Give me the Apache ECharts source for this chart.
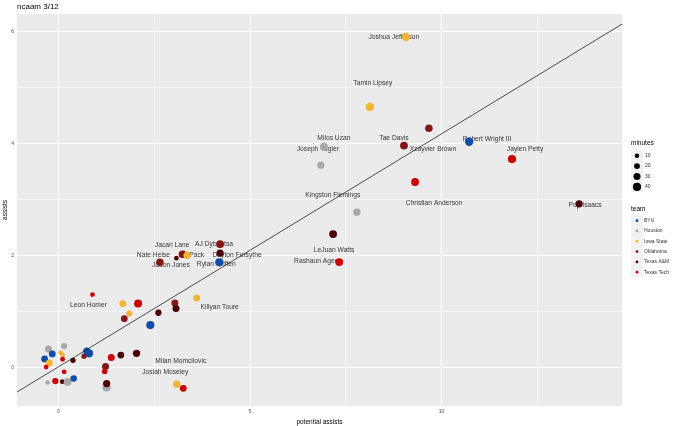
<!DOCTYPE html>
<html>
<head>
<meta charset="utf-8">
<script src="https://cdn.jsdelivr.net/npm/echarts@6/dist/echarts.min.js"></script>
<style>
html, body { margin: 0; padding: 0; background: #fff; }
#main { width: 680px; height: 426px; }
</style>
</head>
<body>
<div id="main"></div>
<script>
// players (empty name = no label)
var names = [
  "Joshua Jefferson", "Tamin Lipsey", "Xzayvier Brown", "Tae Davis", "Robert Wright III",
  "Jaylen Petty", "Christian Anderson", "Pop Isaacs", "Milos Uzan", "Joseph Tugler",
  "Kingston Flemings", "LeJuan Watts", "Rashaun Agee", "AJ Dybantsa", "Dayton Forsythe",
  "Rylan Griffen", "Jal Pack", "Jacari Lane", "Nate Heise", "Jadon Jones",
  "Killyan Toure", "Leon Homer", "Milan Momcilovic", "Josiah Moseley",
  "", "", "", "", "", "", "", "", "", "", "", "", "", "", "", "", "",
  "", "", "", "", "", "", "", "", "", "", "", "", "", "", "", "", ""
];
var teams = [
  "Iowa State", "Iowa State", "Oklahoma", "Oklahoma", "BYU",
  "Texas Tech", "Texas Tech", "Texas A&M", "Houston", "Houston",
  "Houston", "Texas A&M", "Texas Tech", "Oklahoma", "Texas A&M",
  "BYU", "Oklahoma", "Iowa State", "Texas A&M", "Oklahoma",
  "Iowa State", "Texas Tech", "Iowa State", "Texas Tech",
  "Iowa State", "Texas Tech", "Oklahoma", "Texas A&M", "Iowa State", "Oklahoma", "Texas A&M", "BYU",
  "Houston", "Houston", "Iowa State", "Iowa State", "BYU", "BYU", "Iowa State", "Texas Tech", "Texas Tech",
  "Texas A&M", "Oklahoma", "BYU", "BYU", "Texas Tech", "Texas A&M", "Texas A&M", "Oklahoma", "Texas Tech",
  "Texas Tech", "Houston", "Texas Tech", "Texas A&M", "Houston", "BYU", "Houston", "Texas A&M"
];
var potentialAssists = [
  9.07, 8.13, 9.67, 9.02, 10.72,
  11.84, 9.31, 13.59, 6.93, 6.85,
  7.79, 7.17, 7.33, 4.22, 4.22,
  4.20, 3.24, 3.36, 3.08, 2.65,
  3.61, 0.89, 3.09, 3.26,
  1.68, 2.08, 3.04, 3.07, 1.85, 1.72, 2.61, 2.40,
  -0.26, 0.15, 0.06, 0.11, -0.16, -0.36, -0.24, -0.32, 0.11,
  0.38, 0.67, 0.74, 0.80, 1.38, 1.63, 2.04, 1.23, 1.21,
  0.15, -0.28, -0.08, 0.10, 0.24, 0.40, 1.26, 1.26
];
var assists = [
  5.90, 4.65, 4.27, 3.96, 4.03,
  3.72, 3.31, 2.92, 3.94, 3.61,
  2.77, 2.38, 1.88, 2.20, 2.04,
  1.875, 2.02, 2.00, 1.95, 1.875,
  1.24, 1.30, -0.30, -0.375,
  1.14, 1.14, 1.15, 1.05, 0.96, 0.87, 0.975, 0.755,
  0.33, 0.38, 0.26, 0.22, 0.24, 0.15, 0.08, 0.005, 0.145,
  0.125, 0.20, 0.29, 0.25, 0.175, 0.22, 0.25, 0.015, -0.075,
  -0.08, -0.27, -0.245, -0.255, -0.26, -0.20, -0.36, -0.29
];
var minutes = [
  42, 40, 35, 37, 42,
  40, 37, 32, 36, 32,
  32, 37, 37, 36, 32,
  40, 36, 32, 10, 34,
  30, 12, 32, 28,
  28, 38, 30, 30, 22, 28, 24, 40,
  30, 24, 12, 10, 28, 28, 30, 12, 12,
  16, 16, 30, 40, 30, 28, 32, 30, 18,
  12, 10, 24, 10, 36, 26, 40, 32
];

// fitted line end points (x, y)
var fitLine = [[-1.08, -0.44], [14.71, 6.13]];

var xTicks = [0, 5, 10];
var yTicks = [0, 2, 4, 6];
var xMinor = [2.5, 7.5, 12.5];
var yMinor = [1, 3, 5];
var sizeBreaks = [10, 20, 30, 40];
var teamNames = ["BYU", "Houston", "Iowa State", "Oklahoma", "Texas A&M", "Texas Tech"];

// styles
var teamColors = {
  "BYU": "#0F4DA8", "Houston": "#A8A8A8", "Iowa State": "#F1B434",
  "Oklahoma": "#841617", "Texas A&M": "#4A0000", "Texas Tech": "#CC0000"
};
var labelOffset = {
  "Joshua Jefferson": [-12, 0], "Tamin Lipsey": [3, -24], "Xzayvier Brown": [4, 21],
  "Tae Davis": [-10, -7], "Robert Wright III": [18, -3], "Jaylen Petty": [13, -10],
  "Christian Anderson": [19, 21], "Pop Isaacs": [6, 1], "Milos Uzan": [10, -9],
  "Joseph Tugler": [-3, -16], "Kingston Flemings": [-24, -17], "LeJuan Watts": [1, 16],
  "Rashaun Agee": [-23, -1], "AJ Dybantsa": [-6, 0], "Dayton Forsythe": [17, 2],
  "Rylan Griffen": [-3, 2], "Jal Pack": [9, 1], "Jacari Lane": [-15, -10],
  "Nate Heise": [-23, -3], "Jadon Jones": [11, 3], "Killyan Toure": [23, 9],
  "Leon Homer": [-4, 11], "Milan Momcilovic": [4, -23], "Josiah Moseley": [-18, -16]
};
var FONT = "Liberation Sans, Arial, Helvetica, sans-serif";
function dotSize(m) { return 3.4 + 0.12 * m; }

var myChart = echarts.init(document.getElementById('main'));

var points = [];
var labels = [];
for (var i = 0; i < names.length; i++) {
  points.push({
    value: [potentialAssists[i], assists[i], minutes[i]],
    symbolSize: dotSize(minutes[i]),
    itemStyle: { color: teamColors[teams[i]], opacity: 1 }
  });
  if (names[i]) {
    labels.push({
      value: [potentialAssists[i], assists[i]],
      name: names[i],
      label: { offset: labelOffset[names[i]] || [0, 0] }
    });
  }
}

var gridLines = [];
xTicks.forEach(function (v) { gridLines.push({ xAxis: v, lineStyle: { width: 1.1 } }); });
xMinor.forEach(function (v) { gridLines.push({ xAxis: v, lineStyle: { width: 0.5 } }); });
yTicks.forEach(function (v) { gridLines.push({ yAxis: v, lineStyle: { width: 1.1 } }); });
yMinor.forEach(function (v) { gridLines.push({ yAxis: v, lineStyle: { width: 0.5 } }); });

// legends (ggplot style, right side) + y axis title
var graphics = [];
graphics.push({
  type: 'text', x: 5, y: 210, rotation: Math.PI / 2,
  style: { text: 'assists', fontSize: 6.5, fontFamily: FONT, fill: '#000', align: 'center', verticalAlign: 'middle' }
});
graphics.push({ type: 'text', left: 631, top: 140, style: { text: 'minutes', fontSize: 6.5, fontFamily: FONT, fill: '#000' } });
graphics.push({ type: 'rect', shape: { x: 631, y: 150.5, width: 12, height: 41.5 }, style: { fill: '#F2F2F2' } });
sizeBreaks.forEach(function (m, k) {
  var cy = 155.7 + k * 10.4;
  graphics.push({ type: 'circle', shape: { cx: 637, cy: cy, r: dotSize(m) / 2 }, style: { fill: '#000' } });
  graphics.push({ type: 'text', x: 645, y: cy, style: { text: String(m), fontSize: 5, fontFamily: FONT, fill: '#333', verticalAlign: 'middle' } });
});
graphics.push({ type: 'text', left: 631, top: 206, style: { text: 'team', fontSize: 6.5, fontFamily: FONT, fill: '#000' } });
graphics.push({ type: 'rect', shape: { x: 631, y: 215.5, width: 12, height: 62 }, style: { fill: '#F2F2F2' } });
teamNames.forEach(function (t, k) {
  var cy = 220.7 + k * 10.3;
  graphics.push({ type: 'circle', shape: { cx: 637, cy: cy, r: 1.4 }, style: { fill: teamColors[t] } });
  graphics.push({ type: 'text', x: 644, y: cy, style: { text: t, fontSize: 5, fontFamily: FONT, fill: '#333', verticalAlign: 'middle' } });
});

var option = {
  animation: false,
  title: {
    text: 'ncaam 3/12',
    left: 17, top: 3, padding: 0,
    textStyle: { fontSize: 8, fontWeight: 'normal', color: '#000', fontFamily: FONT }
  },
  grid: {
    left: 17, right: 58, top: 14, bottom: 20,
    containLabel: false, outerBoundsMode: 'none',
    show: true, backgroundColor: '#EBEBEB', borderWidth: 0
  },
  xAxis: {
    type: 'value', min: -1.08, max: 14.71,
    name: 'potential assists', nameLocation: 'middle', nameGap: 8,
    nameTextStyle: { fontSize: 6.5, color: '#000', fontFamily: FONT },
    splitLine: { show: false },
    axisLine: { show: false },
    axisTick: { show: true, customValues: xTicks, length: 3, lineStyle: { color: '#333', width: 0.6 } },
    axisLabel: { customValues: xTicks, fontSize: 5, color: '#4D4D4D', margin: 3, fontFamily: FONT }
  },
  yAxis: {
    type: 'value', min: -0.69, max: 6.31,
    splitLine: { show: false },
    axisLine: { show: false },
    axisTick: { show: true, customValues: yTicks, length: 3, lineStyle: { color: '#333', width: 0.6 } },
    axisLabel: { customValues: yTicks, fontSize: 5, color: '#4D4D4D', margin: 3, fontFamily: FONT }
  },
  graphic: graphics,
  series: [
    {
      type: 'line', data: [], z: 1, silent: true,
      markLine: {
        z: 1, silent: true, symbol: ['none', 'none'], animation: false,
        label: { show: false },
        lineStyle: { color: '#FFFFFF', type: 'solid' },
        data: gridLines
      }
    },
    {
      type: 'scatter', z: 2, symbolSize: 0, silent: true,
      data: labels,
      label: {
        show: true, position: 'inside',
        formatter: function (p) { return p.name; },
        fontSize: 6.7, color: '#000', fontFamily: FONT
      }
    },
    {
      type: 'scatter', z: 3,
      data: points
    },
    {
      type: 'line', z: 4, data: fitLine, symbol: 'none', silent: true,
      lineStyle: { color: '#222', width: 0.8 }
    }
  ]
};

myChart.setOption(option);
</script>
</body>
</html>
